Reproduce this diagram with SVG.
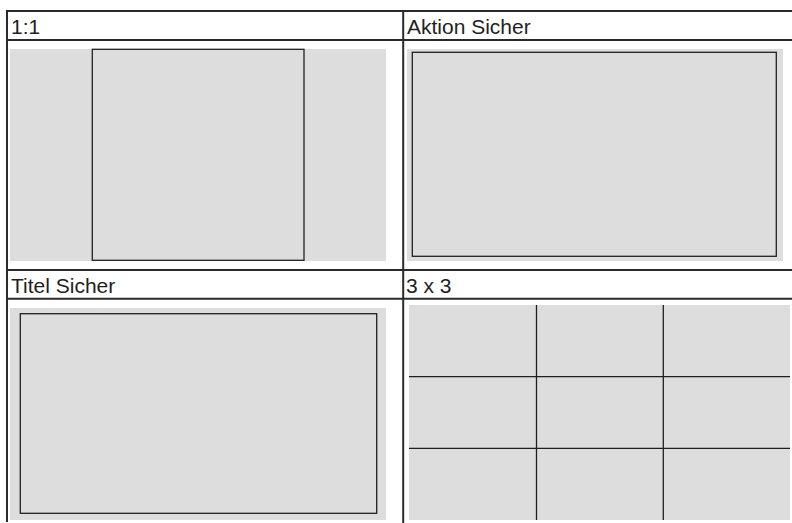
<svg xmlns="http://www.w3.org/2000/svg" width="792" height="523" viewBox="0 0 792 523">
<style>
.bg{fill:#ffffff}
.rule{stroke:#2a2a2a;stroke-width:2;fill:none}
.panel{fill:#dcdddc}
.frame{fill:none;stroke:#231f20;stroke-width:1.3}
.grid{stroke:#231f20;stroke-width:1.3}
.lbl{font-family:"Liberation Sans",Arial,sans-serif;font-size:21px;fill:#231f20}
</style>
<rect class="bg" x="0" y="0" width="792" height="523"/>
<g id="table-lines">
<line class="rule" x1="6" y1="11" x2="792" y2="11"/>
<line class="rule" x1="6" y1="40" x2="792" y2="40"/>
<line class="rule" x1="6" y1="270" x2="792" y2="270"/>
<line class="rule" x1="6" y1="298.7" x2="792" y2="298.7"/>
<line class="rule" x1="7" y1="10" x2="7" y2="522"/>
<line class="rule" x1="403.2" y1="10" x2="403.2" y2="523"/>
</g>
<g id="cell-1-1">
<text class="lbl" x="11" y="34">1:1</text>
<rect class="panel" x="10" y="49" width="376" height="212"/>
<rect class="frame" x="92.3" y="49.3" width="211.7" height="211"/>
</g>
<g id="cell-aktion-sicher">
<text class="lbl" x="407" y="34">Aktion Sicher</text>
<rect class="panel" x="407" y="49" width="376" height="212"/>
<rect class="frame" x="412.3" y="52.3" width="364" height="204"/>
</g>
<g id="cell-titel-sicher">
<text class="lbl" x="11" y="293">Titel Sicher</text>
<rect class="panel" x="10" y="308" width="376" height="212"/>
<rect class="frame" x="20.3" y="313.7" width="356.4" height="199.6"/>
</g>
<g id="cell-3x3">
<text class="lbl" x="406" y="293">3 x 3</text>
<rect class="panel" x="409" y="305" width="381" height="215"/>
<line class="grid" x1="536.5" y1="305" x2="536.5" y2="520"/>
<line class="grid" x1="663.3" y1="305" x2="663.3" y2="520"/>
<line class="grid" x1="409" y1="376.7" x2="790" y2="376.7"/>
<line class="grid" x1="409" y1="448.3" x2="790" y2="448.3"/>
</g>
</svg>
